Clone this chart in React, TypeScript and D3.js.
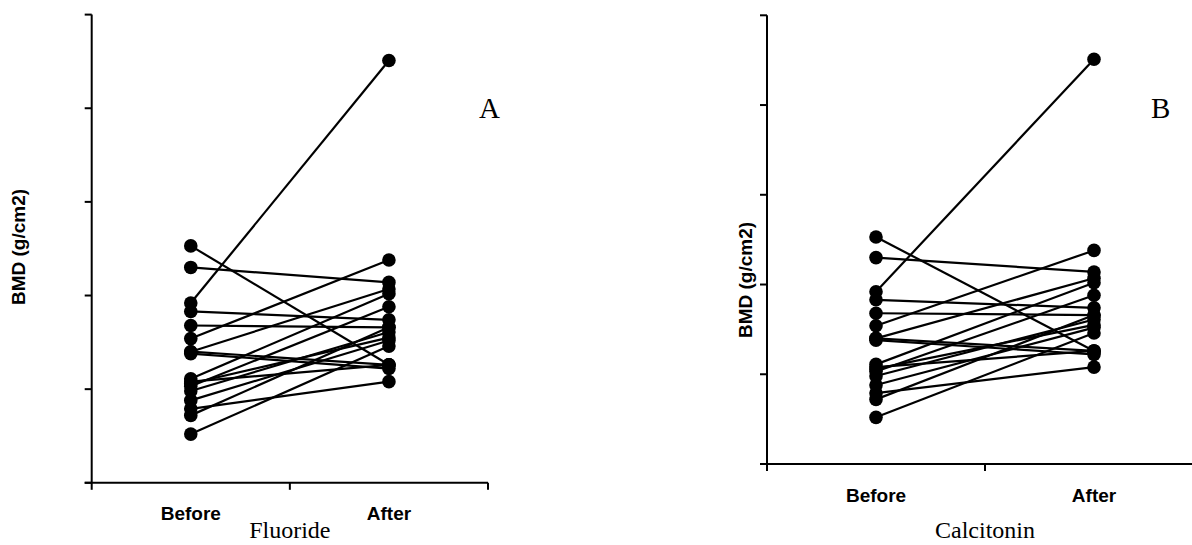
import React from "react";
import * as d3 from "d3";

// Paired BMD measurements (g/cm2, arbitrary axis units 0..5)
const categories = ["Before", "After"];
const yTicks = [0, 1, 2, 3, 4, 5];

const fluorideBefore = [2.53, 2.30, 1.92, 1.83, 1.68, 1.54, 1.40, 1.40, 1.38, 1.11, 1.08, 1.03, 0.98, 0.88, 0.79, 0.72, 0.52, 1.06];
const fluorideAfter = [1.26, 2.14, 4.51, 1.74, 1.66, 2.38, 2.07, 1.26, 1.22, 2.02, 1.26, 1.88, 1.61, 1.52, 1.08, 1.66, 1.46, 1.55];

const calcitoninBefore = [2.53, 2.30, 1.92, 1.83, 1.68, 1.54, 1.40, 1.40, 1.38, 1.11, 1.08, 1.03, 0.98, 0.88, 0.79, 0.72, 0.52, 1.06];
const calcitoninAfter = [1.26, 2.14, 4.51, 1.74, 1.66, 2.38, 2.07, 1.26, 1.22, 2.02, 1.26, 1.88, 1.61, 1.52, 1.08, 1.66, 1.46, 1.55];

type PanelProps = {
  before: number[];
  after: number[];
  x0: number;
  x1: number;
  yBottom: number;
  yTop: number;
  group: string;
  letter: string;
  letterX: number;
  letterY: number;
  catY: number;
  groupY: number;
  yLabelX: number;
  yLabelY: number;
};

const SANS = "'Liberation Sans', Arial, sans-serif";
const SERIF = "'Liberation Serif', 'Times New Roman', serif";

function Panel(p: PanelProps) {
  const x = d3.scalePoint<string>().domain(categories).range([p.x0, p.x1]).padding(0.5);
  const xEdge = d3.scaleLinear().domain([0, 2]).range([p.x0, p.x1]);
  const y = d3.scaleLinear().domain([0, 5]).range([p.yBottom, p.yTop]);
  const sw = 2;
  const tick = 7;
  const pairs = p.before.map((b, i) => [b, p.after[i]] as [number, number]);
  const line = d3
    .line<[string, number]>()
    .x((d) => x(d[0]) as number)
    .y((d) => y(d[1]));
  return (
    <g>
      {/* y axis */}
      <line x1={p.x0} x2={p.x0} y1={y(0)} y2={y(5)} stroke="#000" strokeWidth={sw} />
      {yTicks.map((t) => (
        <line key={"yt" + t} x1={p.x0 - tick} x2={p.x0} y1={y(t)} y2={y(t)} stroke="#000" strokeWidth={sw} />
      ))}
      {/* x axis */}
      <line x1={p.x0 - tick} x2={p.x1} y1={y(0)} y2={y(0)} stroke="#000" strokeWidth={sw} />
      {[0, 1, 2].map((t) => (
        <line key={"xt" + t} x1={xEdge(t)} x2={xEdge(t)} y1={y(0)} y2={y(0) + tick} stroke="#000" strokeWidth={sw} />
      ))}
      {/* paired lines */}
      {pairs.map((pr, i) => (
        <path
          key={"l" + i}
          d={line([["Before", pr[0]], ["After", pr[1]]]) || ""}
          stroke="#000"
          strokeWidth={2.2}
          fill="none"
        />
      ))}
      {pairs.map((pr, i) => (
        <g key={"c" + i}>
          <circle cx={x("Before")} cy={y(pr[0])} r={6.8} fill="#000" />
          <circle cx={x("After")} cy={y(pr[1])} r={6.8} fill="#000" />
        </g>
      ))}
      {categories.map((c) => (
        <text
          key={c}
          x={x(c)}
          y={p.catY}
          textAnchor="middle"
          fontFamily={SANS}
          fontWeight="bold"
          fontSize={19}
        >
          {c}
        </text>
      ))}
      <text x={xEdge(1)} y={p.groupY} textAnchor="middle" fontFamily={SERIF} fontSize={24}>
        {p.group}
      </text>
      <text x={p.letterX} y={p.letterY} fontFamily={SERIF} fontSize={29}>
        {p.letter}
      </text>
      <text
        transform={`translate(${p.yLabelX},${p.yLabelY}) rotate(-90)`}
        textAnchor="middle"
        fontFamily={SANS}
        fontWeight="bold"
        fontSize={19}
      >
        BMD (g/cm2)
      </text>
    </g>
  );
}

export default function App() {
  return (
    <svg
      width={1192}
      height={545}
      style={{ position: "absolute", left: 0, top: 0, background: "#fff" }}
    >
      <rect width={1192} height={545} fill="#fff" />
      <Panel
        before={fluorideBefore}
        after={fluorideAfter}
        x0={91.7}
        x1={488}
        yBottom={482.8}
        yTop={14.6}
        group="Fluoride"
        letter="A"
        letterX={479}
        letterY={118}
        catY={520}
        groupY={538}
        yLabelX={25}
        yLabelY={247}
      />
      <Panel
        before={calcitoninBefore}
        after={calcitoninAfter}
        x0={767}
        x1={1203}
        yBottom={464}
        yTop={15.3}
        group="Calcitonin"
        letter="B"
        letterX={1151}
        letterY={118}
        catY={502}
        groupY={538}
        yLabelX={752}
        yLabelY={280}
      />
    </svg>
  );
}
